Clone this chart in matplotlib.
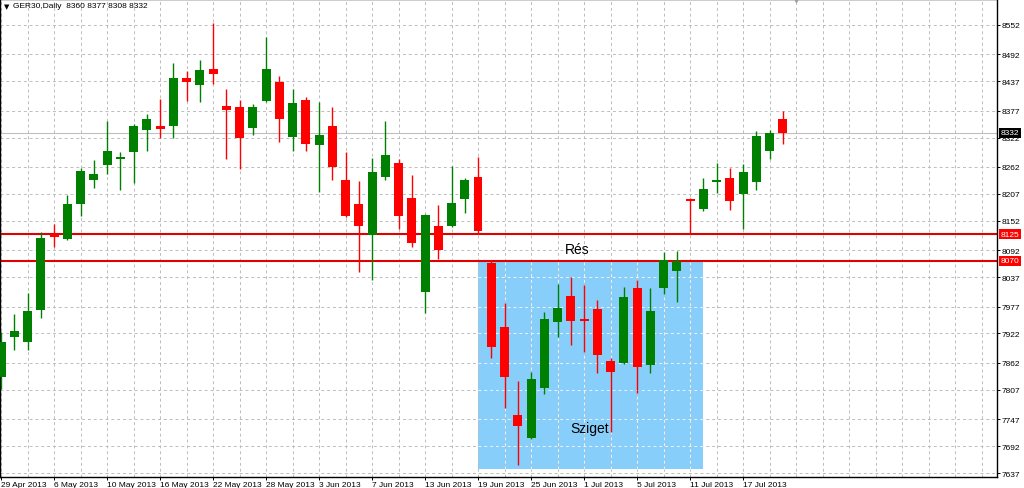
import matplotlib
matplotlib.use("Agg")
import matplotlib.pyplot as plt
import matplotlib.transforms as mtransforms
from matplotlib.patches import Rectangle

# ---------------- data ----------------
symbol = "GER30,Daily"
dates = ["29 Apr", "30 Apr", "2 May", "3 May", "6 May", "7 May", "8 May", "9 May",
         "10 May", "13 May", "14 May", "15 May", "16 May", "17 May", "20 May", "21 May",
         "22 May", "23 May", "24 May", "27 May", "28 May", "29 May", "30 May", "31 May",
         "3 Jun", "4 Jun", "5 Jun", "6 Jun", "7 Jun", "10 Jun", "11 Jun", "12 Jun",
         "13 Jun", "14 Jun", "17 Jun", "18 Jun", "19 Jun", "20 Jun", "21 Jun", "24 Jun",
         "25 Jun", "26 Jun", "27 Jun", "28 Jun", "1 Jul", "2 Jul", "3 Jul", "4 Jul",
         "5 Jul", "8 Jul", "9 Jul", "10 Jul", "11 Jul", "12 Jul", "15 Jul", "16 Jul",
         "17 Jul", "18 Jul", "19 Jul", "22 Jul"]
opens = [7833, 7914, 7905, 7969, 8125, 8114, 8187, 8236, 8267, 8279, 8293, 8337,
         8346, 8345, 8443, 8430, 8462, 8387, 8384, 8342, 8396, 8435, 8324, 8399,
         8307, 8345, 8235, 8186, 8124, 8242, 8270, 8199, 8007, 8142, 8142, 8197,
         8242, 8066, 7936, 7756, 7709, 7811, 7945, 7999, 7952, 7972, 7866, 7861,
         8014, 7858, 8014, 8050, 8197, 8177, 8232, 8240, 8206, 8232, 8295, 8360]
highs = [7925, 7962, 8005, 8129, 8146, 8205, 8260, 8276, 8355, 8292, 8349, 8371,
         8401, 8474, 8459, 8481, 8556, 8421, 8399, 8391, 8528, 8448, 8421, 8404,
         8394, 8384, 8292, 8233, 8280, 8356, 8278, 8246, 8166, 8184, 8265, 8240,
         8282, 8072, 7984, 7824, 7844, 7965, 8023, 8038, 8021, 7990, 7872, 8016,
         8032, 8014, 8088, 8090, 8198, 8240, 8270, 8259, 8268, 8336, 8338, 8377]
lows = [7809, 7889, 7889, 7954, 8099, 8113, 8161, 8220, 8247, 8214, 8229, 8295,
        8321, 8322, 8396, 8394, 8431, 8278, 8258, 8327, 8394, 8314, 8295, 8295,
        8211, 8235, 8160, 8047, 8032, 8235, 8135, 8099, 7964, 8075, 8140, 8169,
        8126, 7871, 7769, 7653, 7706, 7798, 7915, 7898, 7885, 7842, 7720, 7859,
        7800, 7841, 8003, 7986, 8125, 8172, 8208, 8175, 8135, 8214, 8278, 8308]
closes = [7905, 7927, 7968, 8117, 8118, 8186, 8253, 8247, 8294, 8281, 8346, 8359,
          8339, 8444, 8436, 8460, 8452, 8378, 8322, 8384, 8462, 8359, 8392, 8308,
          8328, 8263, 8161, 8142, 8252, 8287, 8162, 8106, 8163, 8092, 8188, 8235,
          8131, 7894, 7833, 7732, 7828, 7952, 7975, 7947, 7947, 7879, 7844, 7997,
          7854, 7967, 8073, 8071, 8193, 8218, 8235, 8193, 8252, 8325, 8331, 8332]

price_levels = [8552, 8492, 8437, 8377, 8322, 8262, 8207, 8152, 8092, 8037,
                7977, 7922, 7862, 7807, 7747, 7692, 7637]
date_tick_step = 4
year = "2013"

res_level = 8125          # "Rés" upper line
gap_level = 8070          # top of the island
island_start = 36         # bar index where the island box starts
island_end = 53           # bar index where the island box ends
island_bottom = 7646
res_text = "Rés"
island_text = "Sziget"

# ---------------- figure ----------------
W, H = 1024, 489
fig = plt.figure(figsize=(W / 100, H / 100), dpi=100)
fig.patch.set_facecolor("white")
ax = fig.add_axes([0, 11 / H, 997 / W, 478 / H])

bar_px = 13.25
ax.set_xlim(-1 / bar_px, 996 / bar_px)
ax.set_ylim(8552 - 452 * 2.0424, 8552 + 26 * 2.0424)

FONT = "Liberation Sans"
GREEN = "#008000"
RED = "#ff0000"
GRID = "#bcbcbc"

# grid
n_grid_x = int(996 / bar_px) + 1
for gx in range(0, n_grid_x, 2):
    ax.axvline(gx, color=GRID, lw=0.7, ls=(0, (3, 3)), zorder=1)
for lv in price_levels:
    ax.axhline(lv, color=GRID, lw=0.7, ls=(0, (3, 3)), zorder=1)

# island rectangle
ax.add_patch(Rectangle((island_start, island_bottom), island_end - island_start,
                       gap_level - island_bottom, facecolor="#87cefa",
                       edgecolor="none", zorder=0.5))

# grid over the island appears lighter
for gx in range(0, n_grid_x, 2):
    if island_start < gx < island_end:
        ax.plot([gx, gx], [island_bottom, gap_level], color="#e6f4fd", lw=0.7,
                ls=(0, (3, 3)), zorder=1.1)
for lv in price_levels:
    if island_bottom < lv < gap_level:
        ax.plot([island_start, island_end], [lv, lv], color="#e6f4fd", lw=0.7,
                ls=(0, (3, 3)), zorder=1.1)

# current price line
ax.axhline(closes[-1], color="#c0c0c0", lw=0.8, zorder=1.2)

# horizontal red lines
ax.axhline(res_level, color="#e00000", lw=1.5, zorder=2)
ax.axhline(gap_level, color="#e00000", lw=1.5, zorder=2)

# candles
body_w = 9 / bar_px
min_h = 3.0
for i, (o, h, l, c) in enumerate(zip(opens, highs, lows, closes)):
    col = GREEN if c >= o else RED
    ax.vlines(i, l, h, color=col, lw=1.0, zorder=3)
    bottom = min(o, c)
    height = max(abs(c - o), min_h)
    ax.add_patch(Rectangle((i - body_w / 2, bottom), body_w, height,
                           facecolor=col, edgecolor="none", zorder=4))

# texts
ax.text(43.5, 8095, res_text, fontsize=10, family=FONT, ha="center", va="center",
        zorder=5)
ax.text(44.45, 7729, island_text, fontsize=10, family=FONT, ha="center",
        va="center", zorder=5)

# header
ax.text(4 / 997, 1 - 7 / 478, "▼", transform=ax.transAxes, fontsize=5,
        family="DejaVu Sans", ha="left", va="center", zorder=6)
ax.text(13 / 997, 1 - 7 / 478,
        f"{symbol}  {opens[-1]} {highs[-1]} {lows[-1]} {closes[-1]}",
        transform=ax.transAxes, fontsize=6.0, family=FONT, ha="left", va="center",
        zorder=6)

# chart shift marker
ax.plot([len(dates)], [1.0], marker="v", color="#a0a0a0", ms=5,
        transform=mtransforms.blended_transform_factory(ax.transData, ax.transAxes),
        clip_on=False, zorder=6)

# axes / ticks
for sp in ax.spines.values():
    sp.set_color("black")
    sp.set_linewidth(1.0)

ax.yaxis.tick_right()
ax.set_yticks(price_levels)
ax.set_yticklabels([str(v) for v in price_levels])
ax.tick_params(axis="y", direction="out", length=2.5, width=0.7, pad=1,
               labelsize=6, colors="black")

tick_idx = list(range(0, len(dates), date_tick_step))
ax.set_xticks(tick_idx)
ax.set_xticklabels([f"{dates[i]} {year}" for i in tick_idx])
ax.tick_params(axis="x", direction="out", length=2.5, width=0.7, pad=0.3,
               labelsize=6, colors="black")
for lab in ax.get_xticklabels():
    lab.set_horizontalalignment("left")
    lab.set_family(FONT)
for lab in ax.get_yticklabels():
    lab.set_family(FONT)

# highlighted price labels
blend = mtransforms.blended_transform_factory(ax.transAxes, ax.transData)
for val, bg in [(res_level, "#ff0000"), (gap_level, "#ff0000"), (closes[-1], "black")]:
    ax.text(1.0035, val, str(val), transform=blend, fontsize=6, family=FONT,
            color="white", ha="left", va="center", clip_on=False, zorder=7,
            bbox=dict(facecolor=bg, edgecolor="none", pad=1.2))

fig.savefig("out.png", dpi=100, facecolor="white")
